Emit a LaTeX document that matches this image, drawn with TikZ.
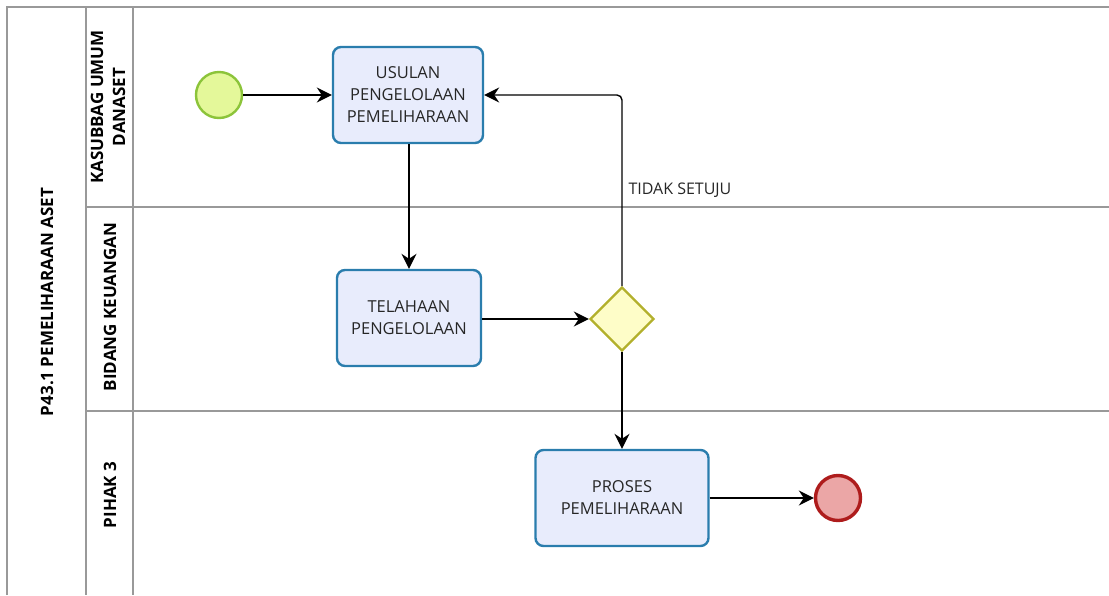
\documentclass[tikz,border=0pt]{standalone}
\usepackage{fontspec}
\setmainfont{Open Sans}
\usetikzlibrary{shapes.geometric,arrows.meta,positioning}

\definecolor{taskline}{HTML}{2A7DAD}
\definecolor{taskfill}{HTML}{E8ECFC}
\definecolor{startline}{HTML}{8CC43A}
\definecolor{startfill}{HTML}{E4F89A}
\definecolor{gwline}{HTML}{B2B02C}
\definecolor{gwfill}{HTML}{FEFDC8}
\definecolor{endline}{HTML}{AE1C1C}
\definecolor{endfill}{HTML}{EBA6A6}

\begin{document}
\begin{tikzpicture}[
    x=1pt, y=-1pt,
    lane/.style={draw=gray!80, line width=2pt},
    lanelabel/.style={rotate=90, align=center, font=\fontsize{17}{22}\selectfont\bfseries},
    task/.style={rectangle, rounded corners=8pt, draw=taskline, fill=taskfill, line width=2.4pt,
        minimum width=150pt, minimum height=96pt, align=center,
        font=\fontsize{16.5}{22}\selectfont, text=black!85},
    startev/.style={circle, draw=startline, fill=startfill, line width=2.4pt, minimum size=46pt, inner sep=0pt},
    endev/.style={circle, draw=endline, fill=endfill, line width=3.4pt, minimum size=45pt, inner sep=0pt},
    gateway/.style={diamond, draw=gwline, fill=gwfill, line width=2.4pt, minimum size=64pt, inner sep=0pt},
    flow/.style={-{Stealth[length=15pt,width=15pt,inset=5pt]}, line width=1.4pt},
    flowlabel/.style={font=\fontsize{16}{18}\selectfont, text=black!85}
]
\useasboundingbox (0,0) rectangle (1109,595);

% pool and lanes
\draw[lane] (7,595) -- (7,7) -- (1109,7);
\draw[lane] (86,7) -- (86,595);
\draw[lane] (133,7) -- (133,595);
\draw[lane] (86,207) -- (1109,207);
\draw[lane] (86,411) -- (1109,411);

\node[lanelabel] (pool) at (47,302) {P43.1 PEMELIHARAAN ASET};
\node[lanelabel] (kasubbag) at (108,107) {KASUBBAG UMUM\\DANASET};
\node[lanelabel] (keuangan) at (110,307) {BIDANG KEUANGAN};
\node[lanelabel] (pihak) at (110,495) {PIHAK 3};

% flow objects
\node[startev] (start) at (219,95) {};
\node[task] (usulan) at (408,95) {USULAN\\PENGELOLAAN\\PEMELIHARAAN};
\node[task, minimum width=144pt] (telahaan) at (409,318) {TELAHAAN\\PENGELOLAAN};
\node[gateway] (gw) at (622,319) {};
\node[task, minimum width=173pt] (proses) at (622,498) {PROSES\\PEMELIHARAAN};
\node[endev] (finish) at (838,498) {};

% sequence flows
\draw[flow] (start) -- (usulan);
\draw[flow] (usulan.south -| telahaan.north) -- (telahaan.north);
\draw[flow] (telahaan.east |- gw.west) -- (gw.west);
\draw[flow, rounded corners=5pt] (gw.north) |- (usulan.east);
\node[flowlabel, anchor=west] (tidak) at (625,190) {TIDAK SETUJU};
\draw[flow] (gw.south) -- (proses.north);
\draw[flow] (proses) -- (finish);
\end{tikzpicture}
\end{document}
